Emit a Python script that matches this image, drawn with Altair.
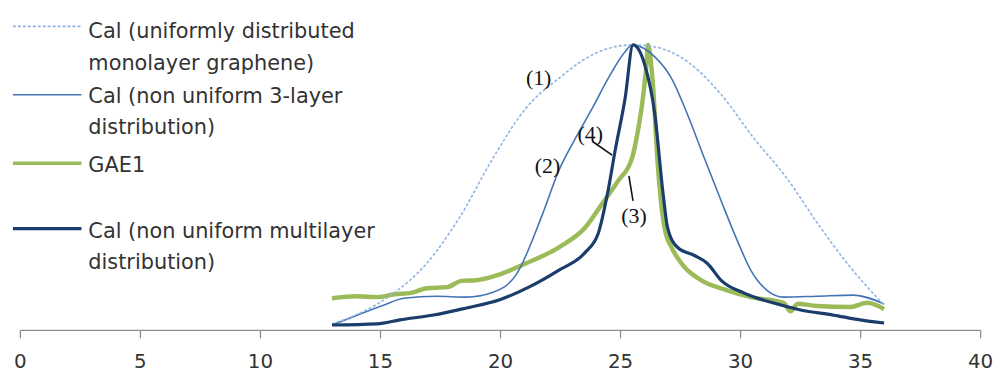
import altair as alt
import pandas as pd

# ---- data (x in axis units, y normalised to peak = 1) ----
uni_x = [13.0, 14.17, 15.58, 16.94, 18.31, 19.71, 21.07, 22.44, 23.84, 25.5,
         26.45, 27.81, 29.21, 30.58, 31.94, 33.35, 34.59, 36.0]
uni_y = [0.021, 0.059, 0.129, 0.233, 0.394, 0.603, 0.777, 0.882, 0.965, 1.0,
         0.993, 0.941, 0.826, 0.672, 0.533, 0.359, 0.220, 0.087]

tri_x = [13.0, 13.76, 15.17, 15.99, 17.36, 18.6, 19.71, 20.66, 21.78, 22.44,
         23.14, 23.84, 24.5, 25.21, 25.5, 26.45, 27.15, 27.81, 28.51, 29.21,
         29.88, 30.45, 31.12, 31.82, 33.18, 34.71, 36.0]
tri_y = [0.017, 0.042, 0.087, 0.111, 0.118, 0.115, 0.132, 0.192, 0.408, 0.557,
         0.672, 0.777, 0.882, 0.976, 1.0, 0.958, 0.882, 0.756, 0.603, 0.453,
         0.314, 0.209, 0.139, 0.115, 0.118, 0.122, 0.091]

gae_x = [13.0, 14.0, 14.88, 15.6, 16.3, 16.94, 17.8, 18.4, 19.0, 20.0, 21.07,
         22.44, 23.55, 24.26, 24.92, 25.5, 25.74, 25.95, 26.12, 26.16, 26.36,
         26.57, 26.86, 27.15, 27.5, 27.69, 28.39, 29.46, 30.45, 31.82, 32.1,
         32.4, 33.18, 34.59, 35.3, 36.0]
gae_y = [0.111, 0.118, 0.115, 0.125, 0.13, 0.146, 0.15, 0.172, 0.174, 0.195, 0.233,
         0.289, 0.359, 0.443, 0.523, 0.603, 0.697, 0.812, 0.951, 1.0, 0.871,
         0.582, 0.355, 0.289, 0.24, 0.220, 0.174, 0.139, 0.115, 0.094, 0.065,
         0.092, 0.084, 0.080, 0.095, 0.073]

mul_x = [13.0, 14.88, 15.83, 17.23, 18.6, 19.96, 21.2, 22.44, 23.55, 24.09,
         24.5, 24.79, 25.21, 25.54, 26.03, 26.45, 26.78, 26.98, 27.4, 28.1,
         28.64, 29.21, 30.17, 31.4, 32.52, 33.88, 35.0, 36.0]
mul_y = [0.017, 0.021, 0.035, 0.052, 0.077, 0.105, 0.150, 0.209, 0.272, 0.338,
         0.488, 0.627, 0.812, 1.0, 0.930, 0.756, 0.488, 0.359, 0.289, 0.261,
         0.233, 0.174, 0.129, 0.094, 0.070, 0.052, 0.035, 0.024]

x_ticks = [0, 5, 10, 15, 20, 25, 30, 35, 40]

legend_labels = ["Cal (uniformly distributed\nmonolayer graphene)",
                 "Cal (non uniform 3-layer\ndistribution)",
                 "GAE1",
                 "Cal (non uniform multilayer\ndistribution)"]

ann_text = ["(1)", "(2)", "(4)", "(3)"]
ann_x = [21.61, 21.98, 23.76, 25.58]
ann_y = [0.882, 0.575, 0.686, 0.401]

lead_x = [23.84, 24.67, 25.37, 25.54]
lead_y = [0.662, 0.613, 0.540, 0.453]
lead_id = ["a", "a", "b", "b"]

# ---- styling ----
C_UNI = "#8EB4E3"
C_TRI = "#4574B5"
C_GAE = "#9BBB59"
C_MUL = "#1B3D6B"
FONT = "DejaVu Sans"
W, H = 968, 316

xscale = alt.Scale(domain=[0, 40], nice=False, zero=False)
yscale = alt.Scale(domain=[0, 1.1], nice=False)
xaxis = alt.Axis(values=x_ticks, grid=False, title=None, domainColor="#8C8C8C",
                 tickColor="#8C8C8C", tickSize=8, domainWidth=1.3, tickWidth=1.3,
                 labelFont=FONT, labelFontSize=20, labelColor="#333333",
                 labelPadding=14, labelFlush=False)


def series(xs, ys, color, width, dash=None):
    df = pd.DataFrame({"x": xs, "y": ys})
    kw = dict(color=color, strokeWidth=width, interpolate="monotone")
    if dash:
        kw["strokeDash"] = dash
    return alt.Chart(df).mark_line(**kw).encode(
        x=alt.X("x:Q", scale=xscale, axis=xaxis),
        y=alt.Y("y:Q", scale=yscale, axis=None),
    )


l_gae = series(gae_x, gae_y, C_GAE, 4.5)
l_tri = series(tri_x, tri_y, C_TRI, 1.6)
l_uni = series(uni_x, uni_y, C_UNI, 1.6, [3, 2])
l_mul = series(mul_x, mul_y, C_MUL, 3.2)

# annotations
ann_df = pd.DataFrame({"t": ann_text, "x": ann_x, "y": ann_y})
ann = alt.Chart(ann_df).mark_text(font="Liberation Serif", fontSize=22,
                                  color="#111111", baseline="middle").encode(
    x=alt.X("x:Q", scale=xscale), y=alt.Y("y:Q", scale=yscale), text="t:N")

lead_df = pd.DataFrame({"x": lead_x, "y": lead_y, "id": lead_id})
lead = alt.Chart(lead_df).mark_line(color="#111111", strokeWidth=1.6).encode(
    x=alt.X("x:Q", scale=xscale), y=alt.Y("y:Q", scale=yscale), detail="id:N")

# legend (drawn manually, pixel positions relative to plot origin)
leg_line_y = [10, 79, 148, 214]
leg_text_y = [22, 87, 157, 223]
leg_styles = [(C_UNI, 1.6, [3, 2]), (C_TRI, 1.6, None), (C_GAE, 3.5, None), (C_MUL, 3.2, None)]
legend_layers = []
for lbl, ly, ty, (col, sw, dash) in zip(legend_labels, leg_line_y, leg_text_y, leg_styles):
    kw = dict(color=col, strokeWidth=sw)
    if dash:
        kw["strokeDash"] = dash
    legend_layers.append(
        alt.Chart(pd.DataFrame({"l": [lbl]})).mark_rule(**kw).encode(
            x=alt.value(-7), x2=alt.value(62), y=alt.value(ly)))
    legend_layers.append(
        alt.Chart(pd.DataFrame({"l": [lbl]})).mark_text(
            font=FONT, fontSize=21, color="#333333", align="left",
            baseline="alphabetic", lineBreak="\n", lineHeight=32).encode(
            x=alt.value(69), y=alt.value(ty), text="l:N"))

chart = alt.layer(l_gae, l_tri, l_uni, l_mul, lead, ann, *legend_layers).properties(
    width=W, height=H,
    autosize=alt.AutoSizeParams(type="none"),
    padding={"left": 12, "top": 7, "right": 15, "bottom": 44},
).configure_view(stroke=None)

chart.save("out.html", embed_options={"renderer": "svg", "actions": False})
